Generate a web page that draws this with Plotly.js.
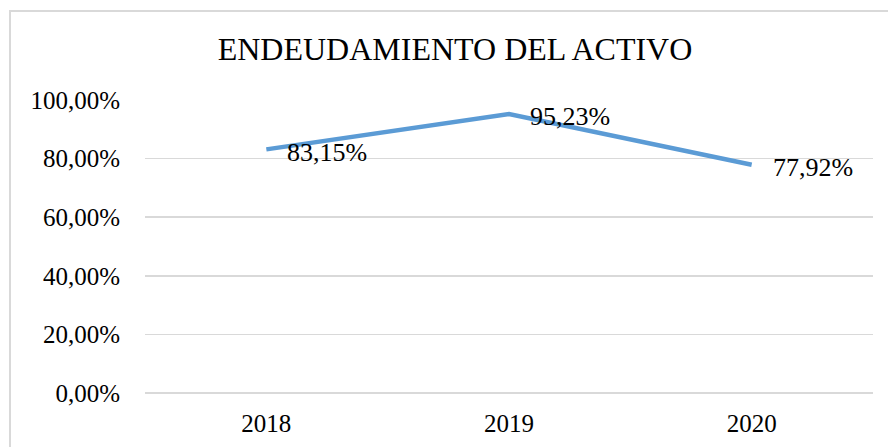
<!DOCTYPE html>
<html>
<head>
<meta charset="utf-8">
<script src="https://cdn.plot.ly/plotly-3.0.1.min.js"></script>
<style>
  html, body { margin: 0; padding: 0; background: #ffffff; }
  #frame { position: absolute; left: 9px; top: 10px; width: 900px; height: 460px; border: 2px solid #d9d9d9; box-sizing: border-box; }
  #chart { position: absolute; left: 0; top: 0; width: 888px; height: 447px; }
</style>
</head>
<body>
<div id="frame"></div>
<div id="chart"></div>
<script>
const categories = ['2018', '2019', '2020'];
const values = [0.8315, 0.9523, 0.7792];
const tickValues = [0, 0.2, 0.4, 0.6, 0.8, 1.0];
const chartTitle = 'ENDEUDAMIENTO DEL ACTIVO';

const font = 'Liberation Serif, Times New Roman, serif';

const trace = {
  x: categories,
  y: values,
  type: 'scatter',
  mode: 'lines',
  line: { color: '#5B9BD5', width: 4.5 },
  hoverinfo: 'skip'
};

const fmt = v => (v * 100).toFixed(2).replace('.', ',') + '%';
const annotations = categories.map((c, i) => ({
  x: i, y: values[i], xref: 'x', yref: 'y',
  text: fmt(values[i]),
  showarrow: false, xanchor: 'left', yanchor: 'middle',
  xshift: 19, yshift: -3,
  font: { family: font, size: 26, color: '#000000' }
}));

const layout = {
  width: 888, height: 447,
  paper_bgcolor: 'rgba(0,0,0,0)',
  plot_bgcolor: 'rgba(0,0,0,0)',
  separators: ',.',
  margin: { l: 145, r: 15, t: 100, b: 54 },
  showlegend: false,
  title: {
    text: chartTitle,
    font: { family: font, size: 32, color: '#000000' },
    x: 455 / 888, xref: 'container', xanchor: 'center',
    y: 1 - 49 / 447, yref: 'container', yanchor: 'middle'
  },
  xaxis: {
    type: 'category',
    range: [-0.5, categories.length - 0.5],
    autorange: false,
    tickfont: { family: font, size: 25, color: '#000000' },
    showgrid: false, showline: false, zeroline: false,
    ticks: '', ticklabelstandoff: 13
  },
  yaxis: {
    range: [0, 1],
    autorange: false,
    tickvals: tickValues,
    tickformat: '.2%',
    tickfont: { family: font, size: 25, color: '#000000' },
    showgrid: true, gridcolor: '#d9d9d9', gridwidth: 1.5,
    zeroline: true, zerolinecolor: '#d9d9d9', zerolinewidth: 1.5,
    showline: false, ticks: '', ticklabelstandoff: 24
  },
  annotations: annotations
};

Plotly.newPlot('chart', [trace], layout, { displayModeBar: false, staticPlot: true });
</script>
</body>
</html>
